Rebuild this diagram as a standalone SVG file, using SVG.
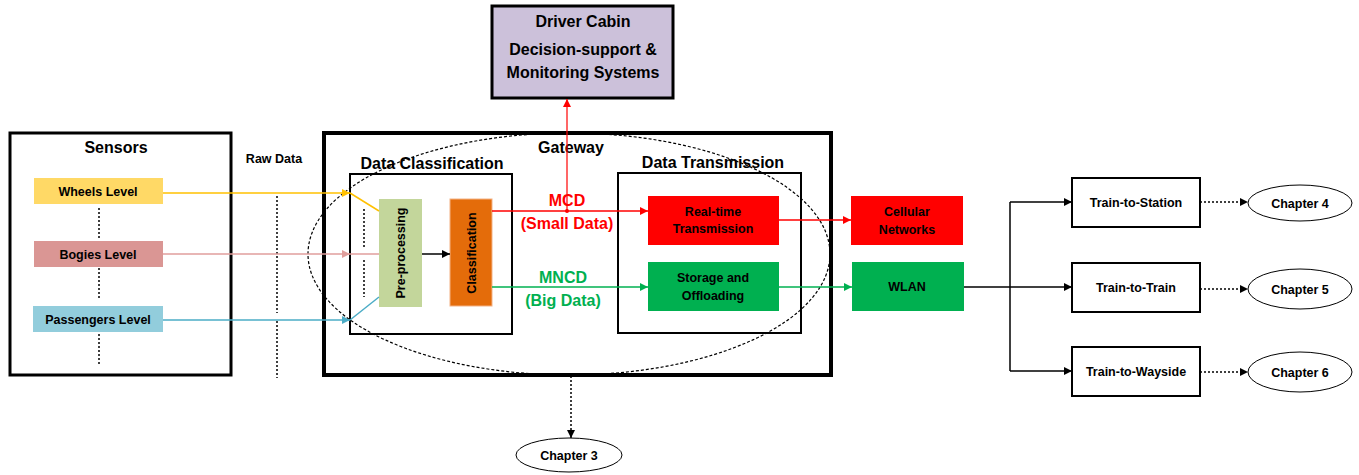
<svg xmlns="http://www.w3.org/2000/svg" width="1359" height="475" viewBox="0 0 1359 475">
<style>
text{font-family:"Liberation Sans",Arial,sans-serif;font-weight:bold;fill:#000;text-anchor:middle}
.h{font-size:16px}
.b{font-size:12.5px}
.dot{stroke:#000;stroke-width:1.5;stroke-dasharray:2,2;fill:none}
.box{fill:#fff;stroke:#000;stroke-width:2}
</style>
<defs>
<marker id="aK" viewBox="0 0 10 10" refX="10" refY="5" markerWidth="10" markerHeight="8" markerUnits="userSpaceOnUse" orient="auto"><path d="M0,0L10,5L0,10z" fill="#000"/></marker>
<marker id="aR" viewBox="0 0 10 10" refX="10" refY="5" markerWidth="10" markerHeight="8" markerUnits="userSpaceOnUse" orient="auto"><path d="M0,0L10,5L0,10z" fill="#FF0000"/></marker>
<marker id="aG" viewBox="0 0 10 10" refX="10" refY="5" markerWidth="10" markerHeight="8" markerUnits="userSpaceOnUse" orient="auto"><path d="M0,0L10,5L0,10z" fill="#00B050"/></marker>
<marker id="aY" viewBox="0 0 10 10" refX="10" refY="5" markerWidth="10" markerHeight="8" markerUnits="userSpaceOnUse" orient="auto"><path d="M0,0L10,5L0,10z" fill="#FFC000"/></marker>
<marker id="aP" viewBox="0 0 10 10" refX="10" refY="5" markerWidth="10" markerHeight="8" markerUnits="userSpaceOnUse" orient="auto"><path d="M0,0L10,5L0,10z" fill="#E09E9C"/></marker>
<marker id="aB" viewBox="0 0 10 10" refX="10" refY="5" markerWidth="10" markerHeight="8" markerUnits="userSpaceOnUse" orient="auto"><path d="M0,0L10,5L0,10z" fill="#4BACC6"/></marker>
</defs>

<!-- containers -->
<g id="sensors">
<rect x="10" y="133" width="221" height="242" fill="#fff" stroke="#000" stroke-width="3"/>
<text x="116" y="153" class="h">Sensors</text>
</g>
<g id="gateway">
<rect x="324" y="133" width="507" height="242" fill="#fff" stroke="#000" stroke-width="4"/>
<text x="571" y="153" class="h">Gateway</text>
</g>
<g id="data-classification">
<rect x="350" y="174" width="162" height="160" class="box"/>
<text x="432" y="169" class="h">Data Classification</text>
<path d="M364,209V247M364,260V297" class="dot"/>
</g>
<g id="data-transmission">
<rect x="618" y="173" width="183" height="160" class="box"/>
<text x="713" y="168" class="h">Data Transmission</text>
</g>
<ellipse cx="569" cy="254" rx="261" ry="121" fill="none" stroke="#000" stroke-width="1.2" stroke-dasharray="3,2"/>

<!-- sensor levels -->
<g id="wheels">
<rect x="34" y="178" width="129" height="26" fill="#FFD966"/>
<text x="98" y="196" class="b">Wheels Level</text>
</g>
<g id="bogies">
<rect x="34" y="241" width="129" height="26" fill="#DA9694"/>
<text x="98" y="259" class="b">Bogies Level</text>
</g>
<g id="passengers">
<rect x="33" y="306" width="130" height="26" fill="#92CDDC"/>
<text x="98" y="324" class="b">Passengers Level</text>
</g>
<path d="M99,208V238M99,268V300M99,334V366" class="dot"/>
<text x="274" y="163" class="b">Raw Data</text>
<path d="M277,196V313M277,321V378" class="dot"/>

<g id="preprocessing">
<rect x="379" y="199" width="43" height="108" fill="#C3D69B"/>
<text transform="translate(405,253) rotate(-90)" class="b">Pre-processing</text>
</g>
<g id="classification">
<rect x="450" y="199" width="42" height="107" fill="#E46C0A" stroke="#F4B183" stroke-width="1"/>
<text transform="translate(476,253) rotate(-90)" class="b">Classification</text>
</g>
<g id="realtime">
<rect x="648" y="196" width="131" height="49" fill="#FF0000"/>
<text x="713" y="216" class="b">Real-time</text>
<text x="713" y="233" class="b">Transmission</text>
</g>
<g id="storage">
<rect x="648" y="262" width="131" height="49" fill="#00B050"/>
<text x="713" y="282" class="b">Storage and</text>
<text x="713" y="300" class="b">Offloading</text>
</g>
<g id="cellular">
<rect x="851" y="196" width="112" height="49" fill="#FF0000"/>
<text x="907" y="216" class="b">Cellular</text>
<text x="907" y="234" class="b">Networks</text>
</g>
<g id="wlan">
<rect x="852" y="262" width="112" height="49" fill="#00B050"/>
<text x="907" y="291" class="b">WLAN</text>
</g>
<g id="driver-cabin">
<rect x="492" y="6" width="181" height="92" fill="#CCC1DA" stroke="#000" stroke-width="3"/>
<text x="583" y="27" class="h">Driver Cabin</text>
<text x="583" y="55" class="h">Decision-support &amp;</text>
<text x="583" y="78" class="h">Monitoring Systems</text>
</g>
<g id="t2s">
<rect x="1072" y="178" width="128" height="49" class="box"/>
<text x="1136" y="207" class="b">Train-to-Station</text>
</g>
<g id="t2t">
<rect x="1072" y="263" width="128" height="49" class="box"/>
<text x="1136" y="292" class="b">Train-to-Train</text>
</g>
<g id="t2w">
<rect x="1072" y="347" width="128" height="49" class="box"/>
<text x="1136" y="376" class="b">Train-to-Wayside</text>
</g>
<g id="ch3">
<ellipse cx="569" cy="455" rx="53" ry="17" fill="#fff" stroke="#000" stroke-width="1"/>
<text x="569" y="460" class="b">Chapter 3</text>
</g>
<g id="ch4">
<ellipse cx="1300" cy="203" rx="52" ry="18" fill="#fff" stroke="#000" stroke-width="1"/>
<text x="1300" y="208" class="b">Chapter 4</text>
</g>
<g id="ch5">
<ellipse cx="1300" cy="289" rx="52" ry="20" fill="#fff" stroke="#000" stroke-width="1"/>
<text x="1300" y="294" class="b">Chapter 5</text>
</g>
<g id="ch6">
<ellipse cx="1300" cy="372" rx="52" ry="20" fill="#fff" stroke="#000" stroke-width="1"/>
<text x="1300" y="377" class="b">Chapter 6</text>
</g>

<!-- labels -->
<g style="font-size:16px">
<text x="567" y="206" style="fill:#FF0000">MCD</text>
<text x="567" y="229" style="fill:#FF0000">(Small Data)</text>
<text x="563" y="283" style="fill:#00B050">MNCD</text>
<text x="563" y="306" style="fill:#00B050">(Big Data)</text>
</g>

<!-- connectors -->
<g id="connectors" fill="none">
<path d="M163,193H350" stroke="#FFC000" stroke-width="1.5" marker-end="url(#aY)"/>
<path d="M350,193L379,211" stroke="#FFC000" stroke-width="1.5"/>
<path d="M163,254H350" stroke="#E09E9C" stroke-width="1.5" marker-end="url(#aP)"/>
<path d="M350,254H379" stroke="#E09E9C" stroke-width="1.5"/>
<path d="M163,320H350" stroke="#4BACC6" stroke-width="1.5" marker-end="url(#aB)"/>
<path d="M350,320L379,297" stroke="#4BACC6" stroke-width="1.5"/>
<path d="M422,254H450" stroke="#000" stroke-width="1.5" marker-end="url(#aK)"/>
<path d="M492,211H648" stroke="#FF0000" stroke-width="1.5" marker-end="url(#aR)"/>
<path d="M567,211V99" stroke="#FF0000" stroke-width="1.2" marker-end="url(#aR)"/>
<circle cx="567" cy="211" r="2" fill="#FF0000"/>
<path d="M492,287H648" stroke="#00B050" stroke-width="1.5" marker-end="url(#aG)"/>
<path d="M779,220H851" stroke="#FF0000" stroke-width="1.5" marker-end="url(#aR)"/>
<path d="M779,287H852" stroke="#00B050" stroke-width="1.5" marker-end="url(#aG)"/>
<path d="M964,287H1010" stroke="#000" stroke-width="1.5"/>
<path d="M1010,202V371" stroke="#000" stroke-width="1.5"/>
<path d="M1010,202H1072" stroke="#000" stroke-width="1.5" marker-end="url(#aK)"/>
<path d="M1010,287H1072" stroke="#000" stroke-width="1.5" marker-end="url(#aK)"/>
<path d="M1010,371H1072" stroke="#000" stroke-width="1.5" marker-end="url(#aK)"/>
<path d="M1200,202H1248" class="dot" marker-end="url(#aK)"/>
<path d="M1200,289H1248" class="dot" marker-end="url(#aK)"/>
<path d="M1200,372H1248" class="dot" marker-end="url(#aK)"/>
<path d="M571,376V438" class="dot" marker-end="url(#aK)"/>
</g>
</svg>
